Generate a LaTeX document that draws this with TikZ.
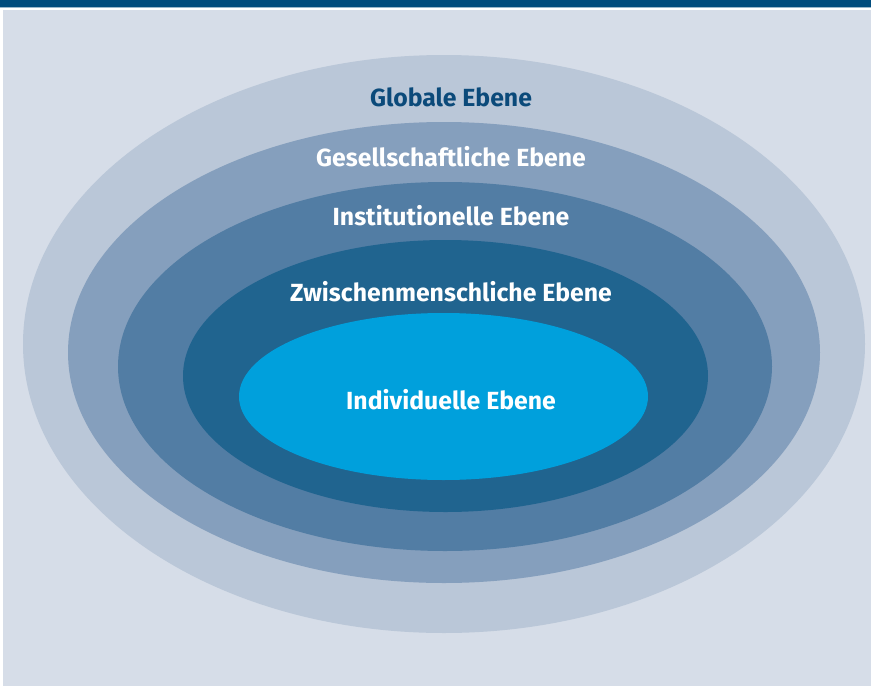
\documentclass[tikz,border=0pt]{standalone}
\usepackage{fontspec}
\setmainfont{Fira Sans}
\definecolor{barblue}{HTML}{004C7D}
\definecolor{bgblue}{HTML}{D6DDE8}
\definecolor{ringA}{HTML}{BAC7D8}
\definecolor{ringB}{HTML}{859FBD}
\definecolor{ringC}{HTML}{527DA4}
\definecolor{ringD}{HTML}{20648F}
\definecolor{ringE}{HTML}{00A0DC}
\definecolor{txtblue}{HTML}{0B4A7A}
\begin{document}
\begin{tikzpicture}[x=1pt,y=-1pt,
  ring/.style={draw=none},
  lbl/.style={font=\fontsize{24.8}{26}\selectfont\bfseries, text=white, inner sep=0pt, anchor=center}]
\useasboundingbox (0,0) rectangle (871,686);
\fill[white] (0,0) rectangle (871,686);
\fill[bgblue] (3,10) rectangle (871,686);
\fill[barblue] (0,0) rectangle (871,7);
\fill[barblue!40] (0,7) rectangle (871,8);
\fill[ringA] (444,344) ellipse [x radius=421, y radius=289];
\fill[ringB] (444,352.5) ellipse [x radius=376, y radius=230.5];
\fill[ringC] (445,366.5) ellipse [x radius=327, y radius=184.5];
\fill[ringD] (445.5,376) ellipse [x radius=262.5, y radius=136];
\fill[ringE] (443.5,396.5) ellipse [x radius=204.5, y radius=83.5];
\node[lbl, text=txtblue] (glob) at (451,97) {Globale Ebene};
\node[lbl] (ges) at (451,157) {Gesellschaftliche Ebene};
\node[lbl] (inst) at (451,216) {Institutionelle Ebene};
\node[lbl] (zw) at (451,292) {Zwischenmenschliche Ebene};
\node[lbl] (ind) at (451,400) {Individuelle Ebene};
\end{tikzpicture}
\end{document}
